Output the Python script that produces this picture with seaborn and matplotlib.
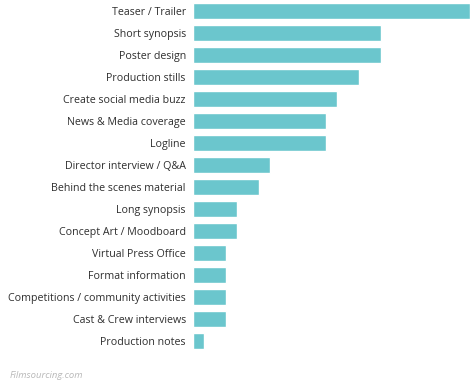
import seaborn as sns
import matplotlib.pyplot as plt
import pandas as pd

categories = [
    "Teaser / Trailer",
    "Short synopsis",
    "Poster design",
    "Production stills",
    "Create social media buzz",
    "News & Media coverage",
    "Logline",
    "Director interview / Q&A",
    "Behind the scenes material",
    "Long synopsis",
    "Concept Art / Moodboard",
    "Virtual Press Office",
    "Format information",
    "Competitions / community activities",
    "Cast & Crew interviews",
    "Production notes",
]
values = [25, 17, 17, 15, 13, 12, 12, 7, 6, 4, 4, 3, 3, 3, 3, 1]

df = pd.DataFrame({"item": categories, "count": values})

sns.set_style("white")
plt.rcParams["font.family"] = ["Open Sans", "DejaVu Sans"]

fig = plt.figure(figsize=(4.74, 3.88), dpi=100)
ax = fig.add_axes([192.7 / 474, 1 - 351.7 / 388, (470 - 192.7) / 474, 351.5 / 388])

sns.barplot(data=df, x="count", y="item", color="#6bc6cd", saturation=1,
            width=0.72, ax=ax)

ax.set_xlim(0, 25)
ax.set_ylim(15.5, -0.5)
ax.set_xlabel("")
ax.set_ylabel("")
ax.set_xticks([])
ax.tick_params(axis="y", length=0, pad=5, labelsize=7.7, labelcolor="#2e2e2e")
for s in ax.spines.values():
    s.set_visible(False)

# source credit, bottom left
fig.text(10 / 474, 1 - 375 / 388, "Filmsourcing.com", fontsize=6.8, style="italic",
         color="#b8b8b8", va="center")

fig.savefig("out.png", dpi=100)
